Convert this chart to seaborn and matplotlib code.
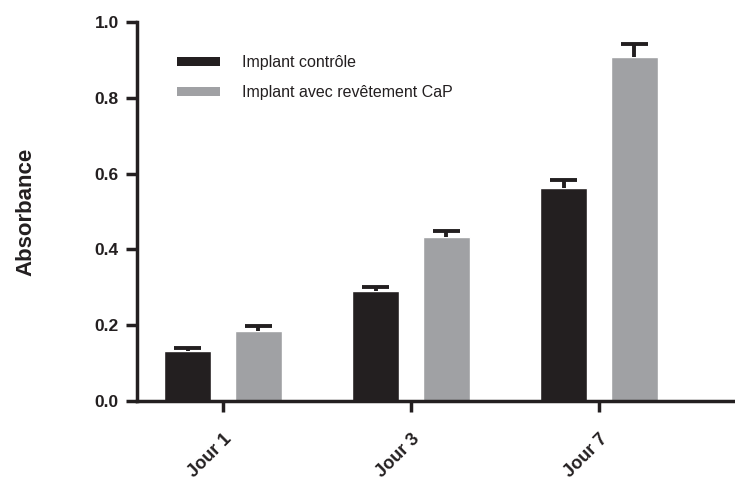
import numpy as np
import pandas as pd
import matplotlib
matplotlib.use("Agg")
import matplotlib.pyplot as plt
from matplotlib.patches import Patch
import seaborn as sns

# data
days = ["Jour 1", "Jour 3", "Jour 7"]
groups = ["Implant contrôle", "Implant avec revêtement CaP"]
ctrl_mean = [0.133, 0.290, 0.563]
ctrl_err = [0.008, 0.010, 0.021]
cap_mean = [0.186, 0.433, 0.908]
cap_err = [0.012, 0.015, 0.035]
y_ticks = [0.0, 0.2, 0.4, 0.6, 0.8, 1.0]

colors = ["#231f20", "#a0a1a4"]
ink = "#231f20"

sns.set_style("ticks")
plt.rcParams["font.family"] = ["Liberation Sans", "DejaVu Sans"]

df = pd.DataFrame({
    "day": days * 2,
    "group": [groups[0]] * 3 + [groups[1]] * 3,
    "value": ctrl_mean + cap_mean,
    "err": ctrl_err + cap_err,
})

fig = plt.figure(figsize=(7.35, 4.96), dpi=100)
ax = fig.add_axes([137 / 735, 95 / 496, 1 - 137 / 735, 379 / 496])

sns.barplot(data=df, x="day", y="value", hue="group", palette=colors,
            order=days, hue_order=groups, width=0.75, gap=0.33,
            errorbar=None, saturation=1, legend=False, ax=ax)

# upper-only error bars (stem + top cap), GraphPad style
cap_half = 0.072
for patch, (_, row) in zip(ax.patches, df.iterrows()):
    xc = patch.get_x() + patch.get_width() / 2
    h = patch.get_height()
    top = h + row["err"]
    ax.vlines(xc, h, top, color=ink, linewidth=2.8, zorder=1)
    ax.hlines(top, xc - cap_half, xc + cap_half, color=ink, linewidth=2.8,
              zorder=3)

ax.set_xlim(-0.457, 2.723)
ax.set_ylim(0, 1.0)
ax.set_yticks(y_ticks)
ax.set_yticklabels([f"{t:.1f}" for t in y_ticks], fontsize=12.5,
                   fontweight="bold", color=ink)
ax.set_xticks(range(len(days)))
ax.set_xticklabels(days, fontsize=13, fontweight="bold", rotation=45,
                   ha="right", rotation_mode="anchor", color=ink)
ax.tick_params(axis="both", length=8, width=2.5, color=ink)
ax.tick_params(axis="y", pad=5)
ax.tick_params(axis="x", pad=13)
ax.set_xlabel("")
ax.set_ylabel("Absorbance", fontsize=16, fontweight="bold", labelpad=42,
              color=ink)

for side in ["left", "bottom"]:
    ax.spines[side].set_linewidth(2.5)
    ax.spines[side].set_color(ink)
ax.spines["top"].set_visible(False)
ax.spines["right"].set_visible(False)

handles = [Patch(facecolor=c, edgecolor="none") for c in colors]
fig.legend(handles, groups, loc="upper left",
           bbox_to_anchor=(177 / 735, 1 - 55 / 496), frameon=False,
           fontsize=11.5, handlelength=2.7, handleheight=0.5,
           handletextpad=1.35, labelspacing=0.95, borderpad=0,
           borderaxespad=0, labelcolor=ink)

fig.savefig("out.png", dpi=100)
plt.close(fig)
